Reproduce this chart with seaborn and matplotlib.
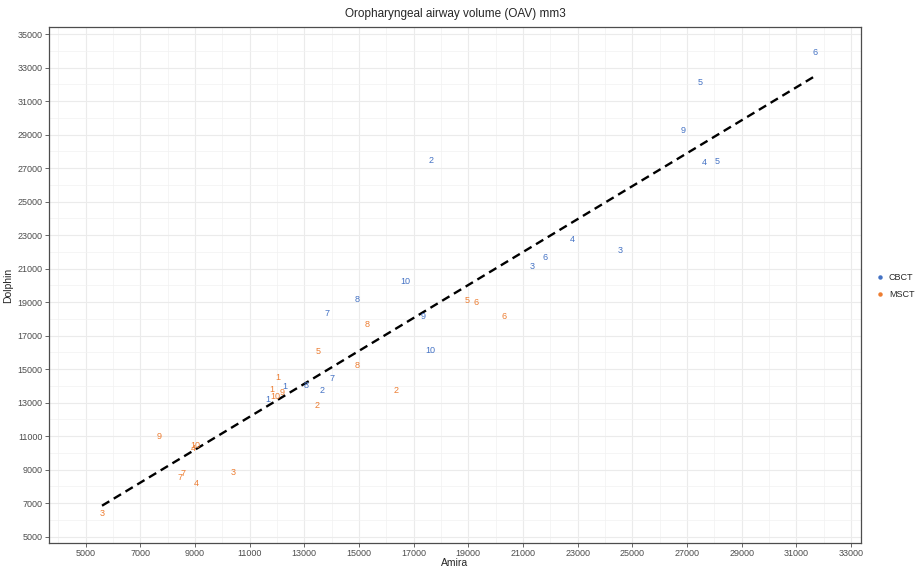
#!/usr/bin/env python
# Oropharyngeal airway volume: Amira vs Dolphin, labelled by subject

import numpy as np
import pandas as pd
import seaborn as sns
import matplotlib.pyplot as plt
from matplotlib.lines import Line2D
from matplotlib.ticker import MultipleLocator

# Data

cbct_subject = [6, 5, 9, 4, 5, 2, 4, 3, 6, 3, 10, 8, 7, 9, 10, 7, 8, 2, 1, 1]
cbct_amira = [31700, 27500, 26850, 27650, 28100, 17650, 22800, 24550, 21800, 21350,
              16700, 14950, 13850, 17350, 17600, 14000, 13050, 13650, 12300, 11650]
cbct_dolphin = [33900, 32100, 29250, 27350, 27400, 27450, 22750, 22100, 21650, 21150,
                20200, 19150, 18300, 18150, 16100, 14450, 14050, 13700, 13950, 13200]

msct_subject = [5, 6, 6, 8, 5, 8, 2, 2, 1, 1, 10, 9, 9, 10, 4, 7, 7, 4, 3, 3]
msct_amira = [18950, 19300, 20300, 15300, 13500, 14950, 16350, 13450, 12050, 11800,
              11950, 12200, 7700, 9000, 8950, 8450, 8550, 9050, 10400, 5600]
msct_dolphin = [19100, 18950, 18150, 17650, 16050, 15200, 13700, 12800, 14500, 13800,
                13350, 13600, 11000, 10450, 10250, 8550, 8750, 8200, 8800, 6400]

methods = ['CBCT', 'MSCT']
colors = {'CBCT': '#4472C4', 'MSCT': '#ED7D31'}

df = pd.concat([
    pd.DataFrame({'Subject': cbct_subject, 'Amira': cbct_amira,
                  'Dolphin': cbct_dolphin, 'Method': 'CBCT'}),
    pd.DataFrame({'Subject': msct_subject, 'Amira': msct_amira,
                  'Dolphin': msct_dolphin, 'Method': 'MSCT'}),
], ignore_index=True)

sns.set_style('white')
plt.rcParams['font.family'] = ['Liberation Sans', 'DejaVu Sans']

fig = plt.figure(figsize=(9.21, 5.68), dpi=100)
ax = fig.add_axes([49 / 921, 1 - 543 / 568, 812 / 921, 516 / 568])

# Regression line over all points
sns.regplot(data=df, x='Amira', y='Dolphin', scatter=False, ci=None, ax=ax,
            line_kws=dict(color='black', lw=1.7, dashes=(3.6, 2.2), zorder=2))

# Subject numbers as the marks
for _, row in df.iterrows():
    ax.text(row['Amira'], row['Dolphin'], str(row['Subject']),
            color=colors[row['Method']], fontsize=6.5,
            ha='center', va='center', zorder=3)

ax.set_xlim(3660, 33370)
ax.set_ylim(4620, 35420)
ax.xaxis.set_minor_locator(MultipleLocator(1000))
ax.yaxis.set_minor_locator(MultipleLocator(1000))
ax.set_xticks(np.arange(5000, 33001, 2000))
ax.set_yticks(np.arange(5000, 35001, 2000))

ax.grid(True, which='major', color='#EBEBEB', lw=0.8, zorder=0)
ax.grid(True, which='minor', color='#F2F2F2', lw=0.5, zorder=0)
ax.set_axisbelow(True)
for s in ax.spines.values():
    s.set_color('#4D4D4D')
    s.set_linewidth(0.9)

ax.tick_params(which='major', length=3, width=0.6, color='#4D4D4D',
               labelsize=6.5, labelcolor='#4D4D4D', pad=1.5, bottom=True, left=True)
ax.tick_params(which='minor', length=0)

ax.set_xlabel('Amira', fontsize=7.5, labelpad=0)
ax.set_ylabel('Dolphin', fontsize=7.5, labelpad=3)
ax.set_title('Oropharyngeal airway volume (OAV) mm3', fontsize=8.5, pad=7)

handles = [Line2D([], [], ls='none', marker='o', ms=2.2, color=colors[m]) for m in methods]
fig.legend(handles, methods, loc='center left', bbox_to_anchor=(870 / 921, 1 - 286 / 568),
           frameon=False, fontsize=6.5, handletextpad=0.5, labelspacing=0.9,
           handlelength=1.0, borderaxespad=0.2)

fig.savefig('out.png', dpi=100)
